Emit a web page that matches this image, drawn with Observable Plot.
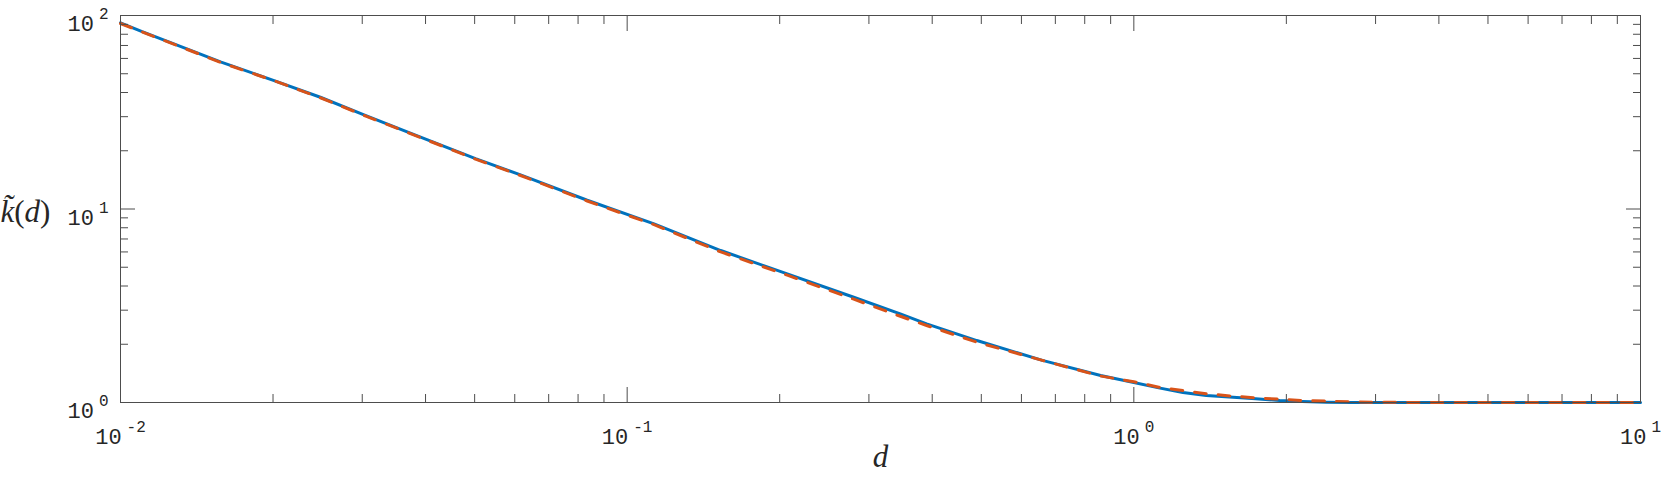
<!DOCTYPE html>
<html><head><meta charset="utf-8">
<script src="https://cdn.jsdelivr.net/npm/d3@7"></script>
<script src="https://cdn.jsdelivr.net/npm/@observablehq/plot@0.6"></script>
<style>html,body{margin:0;padding:0;background:#fff;overflow:hidden}</style>
</head><body><div id="chart"></div>
<script>
// Data
const dValues = [0.01, 0.011, 0.0158, 0.0201, 0.0248, 0.0305, 0.0391, 0.0502, 0.0616, 0.0834, 0.113, 0.153, 0.207, 0.28, 0.346, 0.39, 0.49, 0.66, 0.86, 1.0, 1.12, 1.25, 1.39, 1.57, 1.74, 1.94, 2.15, 2.4, 2.68, 3.0, 4, 6, 10];
const kSolid  = [91.7, 82.7, 57.4, 46.1, 37.8, 30.4, 23.5, 18.2, 15.0, 11.1, 8.38, 6.1, 4.62, 3.50, 2.87, 2.55, 2.09, 1.65, 1.38, 1.27, 1.19, 1.126, 1.087, 1.065, 1.045, 1.024, 1.012, 1.003, 1.0, 1.0, 1.0, 1.0, 1.0];
const kDashed = [90.9, 82.5, 57.1, 46.0, 37.6, 30.2, 23.4, 18.1, 14.9, 11.0, 8.3, 6.0, 4.55, 3.42, 2.79, 2.5, 2.05, 1.65, 1.37, 1.28, 1.20, 1.153, 1.109, 1.078, 1.057, 1.04, 1.024, 1.016, 1.008, 1.003, 1.0, 1.0, 1.0];

const xMajorTicks = [0.01, 0.1, 1, 10];
const xMinorTicks = [0.02,0.03,0.04,0.05,0.06,0.07,0.08,0.09, 0.2,0.3,0.4,0.5,0.6,0.7,0.8,0.9, 2,3,4,5,6,7,8,9];
const yMajorTicks = [1, 10, 100];
const yMinorTicks = [2,3,4,5,6,7,8,9, 20,30,40,50,60,70,80,90];
const xLabel = "d";
const yLabel = "k\u0303(d)";

const solidData = dValues.map((v, i) => ({d: v, k: kSolid[i]}));
const dashedData = dValues.map((v, i) => ({d: v, k: kDashed[i]}));

const axisColor = "#4d4d4d";
const textColor = "#262626";
const fmt = v => "10^" + Math.round(Math.log10(v));
const serif = "'Liberation Serif', 'DejaVu Serif', serif";

const chart = Plot.plot({
  width: 1661, height: 478,
  marginLeft: 120, marginRight: 21, marginTop: 15, marginBottom: 76,
  style: {fontFamily: "'Liberation Mono', monospace", fontSize: "22px", color: textColor, background: "#fff"},
  x: {type: "log", domain: [0.01, 10]},
  y: {type: "log", domain: [1, 100]},
  marks: [
    Plot.line(solidData, {x: "d", y: "k", stroke: "#0072BD", strokeWidth: 3}),
    Plot.line(dashedData, {x: "d", y: "k", stroke: "#D95319", strokeWidth: 3, strokeDasharray: "11.7,12"}),
    Plot.frame({stroke: axisColor}),
    Plot.axisX({anchor: "bottom", ticks: xMajorTicks, tickSize: -15, stroke: axisColor, fill: "none", label: null}),
    Plot.axisX({anchor: "bottom", ticks: xMinorTicks, tickSize: -8, stroke: axisColor, fill: "none", label: null}),
    Plot.axisX({anchor: "top", ticks: xMajorTicks, tickSize: -15, stroke: axisColor, fill: "none", label: null}),
    Plot.axisX({anchor: "top", ticks: xMinorTicks, tickSize: -8, stroke: axisColor, fill: "none", label: null}),
    Plot.axisY({anchor: "left", ticks: yMajorTicks, tickSize: -15, stroke: axisColor, fill: "none", label: null}),
    Plot.axisY({anchor: "left", ticks: yMinorTicks, tickSize: -8, stroke: axisColor, fill: "none", label: null}),
    Plot.axisY({anchor: "right", ticks: yMajorTicks, tickSize: -15, stroke: axisColor, fill: "none", label: null}),
    Plot.axisY({anchor: "right", ticks: yMinorTicks, tickSize: -8, stroke: axisColor, fill: "none", label: null}),
    Plot.axisX({anchor: "bottom", ticks: xMajorTicks, tickSize: 0, tickPadding: 26, tickFormat: fmt, fontSize: 22, fill: textColor, label: null}),
    Plot.axisY({anchor: "left", ticks: yMajorTicks, tickSize: 0, tickPadding: 12, tickFormat: fmt, fontSize: 22, dy: 8.5, fill: textColor, label: null}),
    Plot.text([xLabel], {frameAnchor: "bottom", dy: 64, fontFamily: serif, fontStyle: "italic", fontSize: 31, fill: textColor}),
    Plot.text([yLabel], {frameAnchor: "left", textAnchor: "start", dx: -120, dy: 3, fontFamily: serif, fontSize: 31, fill: textColor})
  ]
});

// Superscript exponents on tick labels
d3.select(chart).selectAll('g[aria-label$="tick label"] text').each(function () {
  const m = this.textContent.match(/^(\d+)\^(.+)$/);
  if (!m) return;
  const t = d3.select(this);
  t.text(null);
  t.append("tspan").text(m[1]);
  t.append("tspan").attr("font-size", 16).attr("dx", 5).attr("dy", -12).text(m[2]);
});
// Italic letters, upright parentheses in the y label
d3.select(chart).selectAll("text").each(function () {
  if (this.textContent !== yLabel) return;
  const t = d3.select(this);
  t.text(null);
  t.append("tspan").attr("font-style", "italic").text("k\u0303");
  t.append("tspan").text("(");
  t.append("tspan").attr("font-style", "italic").text("d");
  t.append("tspan").text(")");
});

document.getElementById("chart").appendChild(chart);
</script>
</body></html>
